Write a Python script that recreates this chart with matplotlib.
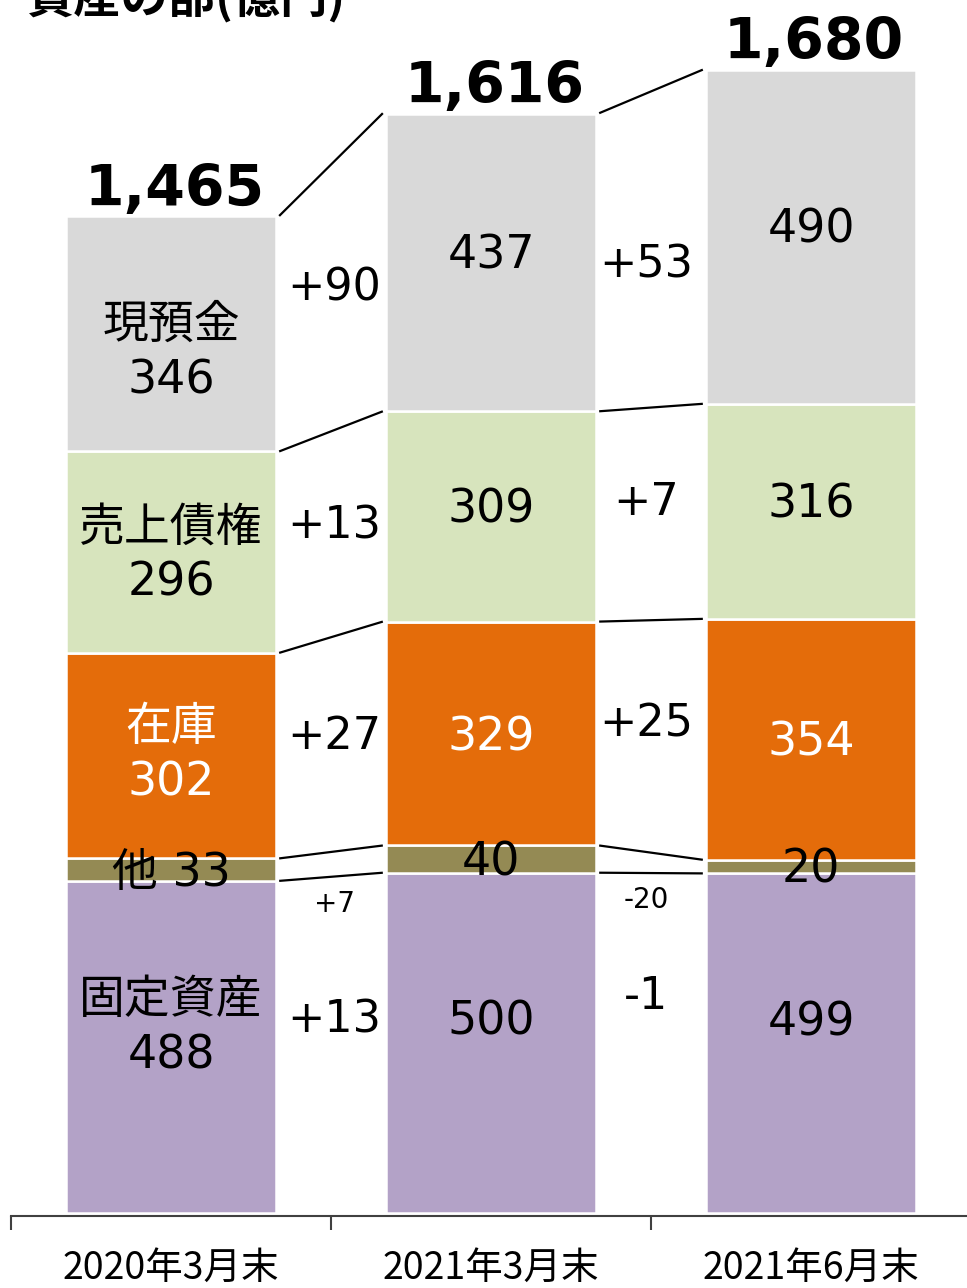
import matplotlib
matplotlib.use("Agg")
from matplotlib import pyplot as plt
import numpy as np

plt.rcParams['font.family'] = ['DejaVu Sans', 'Noto Sans CJK JP']

# data (億円)
periods = ['2020年3月末', '2021年3月末', '2021年6月末']
items = ['固定資産', '他', '在庫', '売上債権', '現預金']   # bottom -> top
fixed = [488, 500, 499]
other = [33, 40, 20]
inventory = [302, 329, 354]
receivables = [296, 309, 316]
cash = [346, 437, 490]
totals = [1465, 1616, 1680]
diff_1 = ['+13', '+7', '+27', '+13', '+90']   # 2020/3 -> 2021/3
diff_2 = ['-1', '-20', '+25', '+7', '+53']    # 2021/3 -> 2021/6

colors = ['#b3a2c7', '#948a54', '#e46c0a', '#d7e4bd', '#d9d9d9']
txtcol = ['black', 'black', 'white', 'black', 'black']

vals = np.array([fixed, other, inventory, receivables, cash], dtype=float)
bottoms = np.vstack([np.zeros(3), np.cumsum(vals, axis=0)[:-1]])
tops = bottoms + vals

fig = plt.figure(figsize=(9.67, 12.88), dpi=100)
ax = fig.add_axes([11/967, 75/1288, 960/967, 1191/1288])
x = np.arange(3)
w = 0.656

for i in range(len(items)):
    ax.bar(x, vals[i], w, bottom=bottoms[i], color=colors[i],
           edgecolor='white', linewidth=1.8)

# segment labels (nudges in data units: first bar / other bars)
nudge0 = [28, 0, 0, -5, -28]
nudge = [30, 0, -6, 10, 10]
for i in range(len(items)):
    for j in range(3):
        y = bottoms[i, j] + vals[i, j] / 2 + (nudge0[i] if j == 0 else nudge[i])
        v = int(vals[i, j])
        if j == 0 and i == 1:
            s = '他 %d' % v
        elif j == 0:
            s = '%s\n%d' % (items[i], v)
        else:
            s = '%d' % v
        if i == 1:
            y = bottoms[i, j] + vals[i, j] / 2 - 5
        ax.text(x[j], y, s, ha='center', va='center', fontsize=33,
                color=txtcol[i], linespacing=1.3)

# totals
for j in range(3):
    ax.text(x[j] + 0.01, totals[j] + 15, '{:,}'.format(totals[j]), ha='center',
            va='baseline', fontsize=41, fontweight='bold')

# connecting lines
for j in range(2):
    for i in range(len(items)):
        ya = tops[i, j]
        yb = tops[i, j + 1]
        if i == 4:
            ya, yb = totals[j], totals[j + 1]
        ax.plot([x[j] + w / 2 + 0.01, x[j + 1] - w / 2 - 0.01], [ya, yb],
                color='black', lw=1.6, solid_capstyle='butt')

# difference labels
dnudge = [[36, 0, 12, 12, 15], [68, 0, 18, 16, -22]]
for j, diffs in enumerate([diff_1, diff_2]):
    xm = [0.51, 1.485][j]
    for i in range(len(items)):
        mid = (bottoms[i, j] + tops[i, j] + bottoms[i, j + 1] + tops[i, j + 1]) / 4
        if i == 1:
            y = (bottoms[1, j] + bottoms[1, j + 1]) / 2 - 40
            fs = 20
        else:
            y = mid + dnudge[j][i]
            fs = 32
        ax.text(xm, y, diffs[i], ha='center', va='center', fontsize=fs)

ax.set_xlim(-0.5, 2.5)
ax.set_ylim(0, 1750)
for s in ['top', 'right', 'left']:
    ax.spines[s].set_visible(False)
ax.spines['bottom'].set_color('#404040')
ax.spines['bottom'].set_linewidth(1.5)
ax.spines['bottom'].set_position(('data', -4))
ax.set_yticks([])
ax.set_xticks(x)
ax.set_xticklabels(periods, fontsize=27, family=['Noto Sans CJK JP'])
ax.tick_params(axis='x', which='major', length=0, pad=24)
ax.set_xticks([-0.5, 0.5, 1.5, 2.5], minor=True)
ax.tick_params(axis='x', which='minor', length=10, width=1.5, color='#404040')

fig.text(26/967, 1 + 2/1288, '資産の部(億円)', fontsize=34, fontweight='bold',
         ha='left', va='center', family=['Noto Sans CJK JP'])
fig.text(690/967, -20/1288, 'Copyright ©2021', fontsize=24, color='#595959',
         ha='left', va='center')

fig.savefig('out.png', dpi=100)
